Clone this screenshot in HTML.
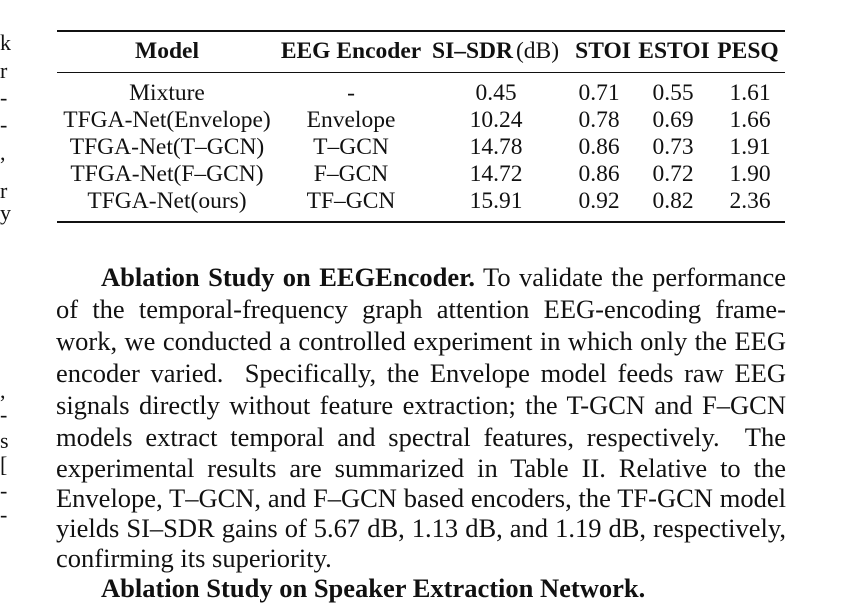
<!DOCTYPE html>
<html><head><meta charset="utf-8"><style>
body{margin:0;background:#fff;width:841px;height:602px;overflow:hidden;position:relative;font-family:"Liberation Serif",serif;color:#111}
.a{position:absolute;white-space:nowrap}
.c{transform:translateX(-50%)}
.h{font-weight:bold;font-size:23.5px;top:38px}
.r{font-size:23.5px}
.rule{position:absolute;left:57px;width:728px;background:#111}
.ln{position:absolute;left:56px;width:730px;font-size:26.5px;text-align:justify;text-align-last:justify;white-space:nowrap;height:30px;line-height:30px}
.frag{position:absolute;left:0;font-size:22px}
</style></head><body>
<div class="frag" style="top:30px">k</div>
<div class="frag" style="top:58px">r</div>
<div class="frag" style="top:85px">-</div>
<div class="frag" style="top:112px">-</div>
<div class="frag" style="top:140px">,</div>
<div class="frag" style="top:178px">r</div>
<div class="frag" style="top:200px">y</div>
<div class="frag" style="top:378px">,</div>
<div class="frag" style="top:402px">-</div>
<div class="frag" style="top:428px">s</div>
<div class="frag" style="top:452px">[</div>
<div class="frag" style="top:478px">-</div>
<div class="frag" style="top:502px">-</div>

<div>
<div class="rule" style="top:30px;height:2px"></div>
<div class="rule" style="top:72px;height:1px"></div>
<div class="rule" style="top:221px;height:2px"></div>
<div class="a c h" style="left:167px">Model</div>
<div class="a c h" style="left:351px">EEG Encoder</div>
<div class="a h" style="left:432px">SI–SDR<span style="font-weight:normal;margin-left:3px">(dB)</span></div>
<div class="a c h" style="left:603px">STOI</div>
<div class="a c h" style="left:674px">ESTOI</div>
<div class="a c h" style="left:748px">PESQ</div>
<div id="rows"></div>
</div>

<div>
<div class="ln" style="top:262px;left:101px;width:685px"><b>Ablation Study on EEGEncoder.</b> To validate the performance</div>
<div class="ln" style="top:294px">of the temporal-frequency graph attention EEG-encoding frame-</div>
<div class="ln" style="top:326px">work, we conducted a controlled experiment in which only the EEG</div>
<div class="ln" style="top:358px">encoder varied.&nbsp; Specifically, the Envelope model feeds raw EEG</div>
<div class="ln" style="top:390px">signals directly without feature extraction; the T-GCN and F–GCN</div>
<div class="ln" style="top:422px">models extract temporal and spectral features, respectively.&nbsp; The</div>
<div class="ln" style="top:453px">experimental results are summarized in Table II. Relative to the</div>
<div class="ln" style="top:483px">Envelope, T–GCN, and F–GCN based encoders, the TF-GCN model</div>
<div class="ln" style="top:513px">yields SI–SDR gains of 5.67 dB, 1.13 dB, and 1.19 dB, respectively,</div>
<div class="ln" style="top:543px;text-align-last:left">confirming its superiority.</div>
<div class="ln" style="top:573px;left:101px;text-align-last:left"><b>Ablation Study on Speaker Extraction Network.</b></div>
</div>
<script>
const models=["Mixture","TFGA-Net(Envelope)","TFGA-Net(T–GCN)","TFGA-Net(F–GCN)","TFGA-Net(ours)"];
const encoders=["-","Envelope","T–GCN","F–GCN","TF–GCN"];
const sisdr=["0.45","10.24","14.78","14.72","15.91"];
const stoi=["0.71","0.78","0.86","0.86","0.92"];
const estoi=["0.55","0.69","0.73","0.72","0.82"];
const pesq=["1.61","1.66","1.91","1.90","2.36"];
const cols=[[models,167,'model'],[encoders,351,'encoder'],[sisdr,496,'si-sdr'],[stoi,599,'stoi'],[estoi,673,'estoi'],[pesq,750,'pesq']];
const host=document.getElementById('rows');
for(let i=0;i<models.length;i++){
  for(const [arr,x,nm] of cols){
    const d=document.createElement('div');
    d.className='a c r';
    d.style.left=x+'px';
    d.style.top=(80+i*27)+'px';
    d.textContent=arr[i];
    
    
    host.appendChild(d);
  }
}
</script>
</body></html>
